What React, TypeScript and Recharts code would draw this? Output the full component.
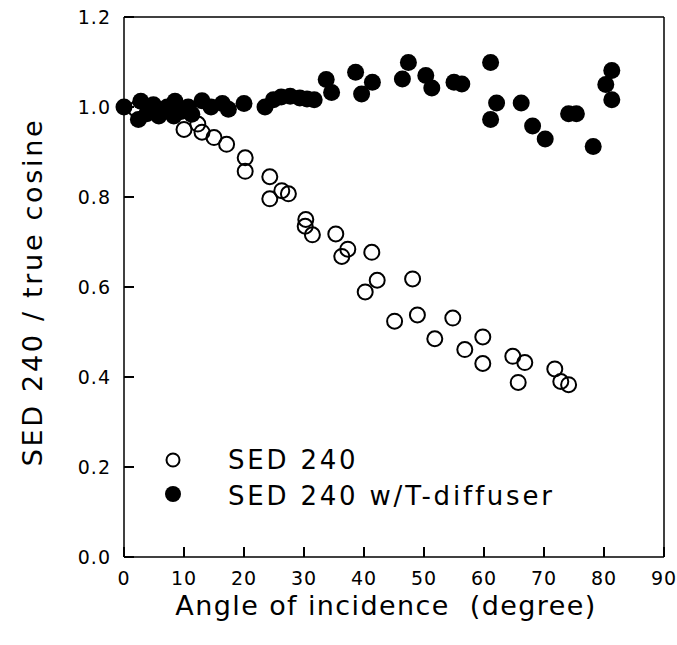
import { ScatterChart, Scatter, XAxis, YAxis, Legend, Label } from 'recharts';

// SED 240 (open circles): [angle, ratio]
const bareX = [2, 5, 10, 12.3, 13, 15, 17.1, 20.2, 20.2, 24.3, 24.3, 26.3, 27.4, 30.3, 30.2, 31.4, 35.3, 37.3, 36.3, 41.3, 42.2, 40.2, 45.1, 48.1, 48.9, 51.8, 54.8, 56.8, 59.8, 59.8, 64.8, 66.8, 65.7, 71.8, 72.8, 74.1];
const bareY = [0.995, 0.99, 0.95, 0.962, 0.944, 0.932, 0.917, 0.887, 0.857, 0.845, 0.796, 0.814, 0.807, 0.75, 0.735, 0.716, 0.718, 0.684, 0.668, 0.677, 0.615, 0.589, 0.524, 0.618, 0.538, 0.485, 0.531, 0.461, 0.489, 0.43, 0.446, 0.432, 0.388, 0.418, 0.39, 0.383];

// SED 240 w/T-diffuser (filled circles)
const diffX = [0, 2.4, 2.8, 3.8, 4.9, 5.8, 7.2, 8.3, 8.5, 9.5, 10.7, 11.3, 13, 14.5, 16.4, 17.4, 20, 23.5, 24.9, 26.2, 27.7, 29.3, 30.5, 31.7, 33.7, 34.6, 38.6, 39.6, 41.4, 46.4, 47.4, 50.3, 51.3, 55, 56.3, 61.1, 62.1, 61.1, 66.2, 68.1, 70.2, 74.1, 75.4, 78.2, 80.3, 81.3, 81.3];
const diffY = [1.0, 0.972, 1.013, 0.985, 1.005, 0.98, 1.0, 0.98, 1.013, 0.99, 1.0, 0.984, 1.014, 1.0, 1.008, 0.995, 1.008, 1.0, 1.016, 1.022, 1.024, 1.02, 1.018, 1.016, 1.061, 1.032, 1.077, 1.029, 1.055, 1.062, 1.099, 1.07, 1.042, 1.055, 1.051, 1.099, 1.009, 0.972, 1.009, 0.958, 0.929, 0.985, 0.985, 0.912, 1.05, 1.081, 1.016];

const xTicks = [0, 10, 20, 30, 40, 50, 60, 70, 80, 90];
const yTicks = [0, 0.2, 0.4, 0.6, 0.8, 1.0, 1.2];

const bare = bareX.map((x, i) => ({ x, y: bareY[i] }));
const diffuser = diffX.map((x, i) => ({ x, y: diffY[i] }));

const FONT = '"DejaVu Sans", sans-serif';
const axisLine = { stroke: '#000', strokeWidth: 1.5 };
// plot frame edges (px)
const LEFT = 124, RIGHT = 664, TOP = 17, BOTTOM = 557, TICK = 10;
const labelFont = { fill: '#000', fontSize: 19, fontFamily: FONT, letterSpacing: 1 };

// inward tick marks, drawn by hand
const BottomTick = (p: any) => (
  <g>
    <line x1={p.x} x2={p.x} y1={BOTTOM} y2={BOTTOM - TICK} stroke="#000" strokeWidth={2} />
    <text x={p.x} y={578} dy="0.355em" textAnchor="middle" {...labelFont}>{p.payload.value}</text>
  </g>
);
const TopTick = (p: any) => (
  <line x1={p.x} x2={p.x} y1={TOP} y2={TOP + TICK} stroke="#000" strokeWidth={2} />
);
const LeftTick = (p: any) => (
  <g>
    <line x1={LEFT} x2={LEFT + TICK} y1={p.y} y2={p.y} stroke="#000" strokeWidth={2} />
    <text x={111} y={p.y} dy="0.355em" textAnchor="end" {...labelFont}>{Number(p.payload.value).toFixed(1)}</text>
  </g>
);
const RightTick = (p: any) => (
  <line x1={RIGHT} x2={RIGHT - TICK} y1={p.y} y2={p.y} stroke="#000" strokeWidth={2} />
);

const OpenDot = (p: any) => (
  <circle cx={p.cx} cy={p.cy} r={7.5} fill="none" stroke="#000" strokeWidth={2} />
);
const FilledDot = (p: any) => <circle cx={p.cx} cy={p.cy} r={8.5} fill="#000" />;

function LegendBox() {
  const text = { fontSize: 26, fontFamily: FONT, letterSpacing: 2.8, fill: '#000' };
  return (
    <svg width={440} height={70}>
      <circle cx={18} cy={15} r={6.5} fill="none" stroke="#000" strokeWidth={2} />
      <text x={73} y={24} {...text}>SED 240</text>
      <circle cx={18} cy={49} r={8} fill="#000" />
      <text x={73} y={60} {...text}>SED 240 w/T-diffuser</text>
    </svg>
  );
}

export default function App() {
  return (
    <div style={{ position: 'absolute', left: 0, top: 0, background: '#fff' }}>
      <ScatterChart width={677} height={645} margin={{ top: 0, right: 0, bottom: 0, left: 0 }}>
        <XAxis
          xAxisId="b"
          type="number"
          dataKey="x"
          domain={[0, 90]}
          ticks={xTicks}
          height={88}
          tickLine={false}
          tick={BottomTick}
          axisLine={axisLine}
        >
          <Label
            content={() => (
              <text x={386} y={615} textAnchor="middle" xmlSpace="preserve" fontSize={27} fontFamily={FONT} letterSpacing={1.4} fill="#000">
                {'Angle of incidence  (degree)'}
              </text>
            )}
          />
        </XAxis>
        <XAxis
          xAxisId="t"
          orientation="top"
          type="number"
          domain={[0, 90]}
          ticks={xTicks}
          height={17}
          tickLine={false}
          tick={TopTick}
          axisLine={axisLine}
        />
        <YAxis
          yAxisId="l"
          type="number"
          dataKey="y"
          domain={[0, 1.2]}
          ticks={yTicks}
          width={124}
          tickLine={false}
          tick={LeftTick}
          axisLine={axisLine}
        >
          <Label
            content={() => (
              <text x={42} y={292} transform="rotate(-90 42 292)" textAnchor="middle" fontSize={27} fontFamily={FONT} letterSpacing={2.7} fill="#000">
                SED 240 / true cosine
              </text>
            )}
          />
        </YAxis>
        <YAxis
          yAxisId="r"
          orientation="right"
          type="number"
          domain={[0, 1.2]}
          ticks={yTicks}
          width={13}
          tickLine={false}
          tick={RightTick}
          axisLine={axisLine}
        />
        <Legend
          layout="vertical"
          align="center"
          verticalAlign="middle"
          wrapperStyle={{ left: 155, top: 445, width: 440 }}
          content={() => <LegendBox />}
        />
        <Scatter
          name="SED 240"
          data={bare}
          xAxisId="b"
          yAxisId="l"
          shape={OpenDot}
          isAnimationActive={false}
        />
        <Scatter
          name="SED 240 w/T-diffuser"
          data={diffuser}
          xAxisId="b"
          yAxisId="l"
          shape={FilledDot}
          isAnimationActive={false}
        />
      </ScatterChart>
    </div>
  );
}
